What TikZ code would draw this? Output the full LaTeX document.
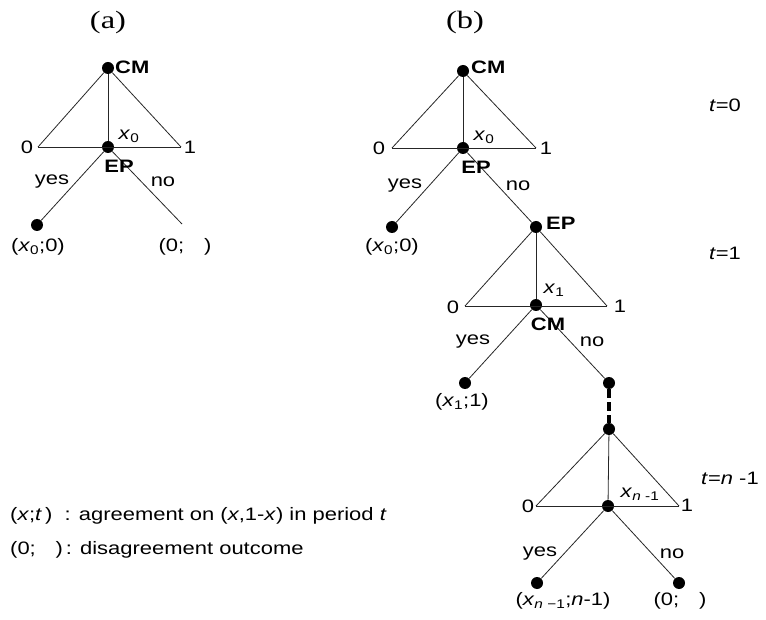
\documentclass[tikz,border=0pt]{standalone}
\usepackage{fontspec}
\setmainfont[FakeStretch=1.22]{Liberation Sans}
\newfontfamily\capfont[FakeStretch=1.3]{Liberation Serif}
\usetikzlibrary{positioning}
\tikzset{
  % decision nodes and outcomes of the tree
  gnode/.style={circle, fill=black, inner sep=0pt, minimum size=12pt},
  % branches and offer simplices
  branch/.style={line width=0.8pt, black!85},
  % the skipped periods between t=1 and t=n-1
  skipln/.style={line width=4pt, dash pattern=on 9pt off 4pt},
  % plain and player labels
  lbl/.style={inner sep=0pt},
  player/.style={lbl, font=\fontsize{18}{21}\selectfont\bfseries},
  panel/.style={lbl, font=\capfont\fontsize{25}{28}\selectfont},
}
\newcommand{\xv}[1]{\textit{x}\textsubscript{#1}}

\begin{document}
\begin{tikzpicture}[x=1pt, y=-1pt, font=\fontsize{18}{21}\selectfont]
    \useasboundingbox (0,0) rectangle (766,620);
    % ---- (a): one period ----
    \node[panel] (a-cap) at (108,22) {(a)};
    \node[gnode] (a-cm) at (108,68) {};
    \coordinate (a-l) at (38,147);
    \coordinate (a-r) at (181,147);
    \node[gnode] (a-ep) at (108,147) {};
    \node[gnode] (a-yes) at (37,225) {};
    \coordinate (a-no) at (182,224);
    \draw[branch] (a-l) -- (a-cm) -- (a-r);
    \draw[branch] (a-l) -- (a-r);
    \draw[branch] (a-cm) -- (a-ep);
    \draw[branch] (a-ep) -- (a-yes);
    \draw[branch] (a-ep) -- (a-no);
    \node[player, anchor=west] (a-cmlbl) at (115,67) {CM};
    \node[player] (a-eplbl) at (119,166) {EP};
    \node[lbl] (a-zero) at (27,147) {0};
    \node[lbl] (a-one) at (190,147) {1};
    \node[lbl] (a-x) at (129,136) {\xv{0}};
    \node[lbl] (a-yeslbl) at (52,182) {yes};
    \node[lbl] (a-nolbl) at (163,182) {no};
    \node[lbl] (a-out1) at (38,247) {(\xv{0};0)};
    \node[lbl] (a-out2) at (185,247) {(0;\hspace{1.1em})};
    % ---- (b): n periods ----
    \node[panel] (b-cap) at (465,22) {(b)};
    % t=0, CM offers
    \node[gnode] (b-cm0) at (463,71) {};
    \coordinate (b-l0) at (392,148);
    \coordinate (b-r0) at (536,148);
    \node[gnode] (b-ep0) at (463,148) {};
    \node[gnode] (b-yes0) at (392,227) {};
    % t=1, EP offers
    \node[gnode] (b-ep1) at (536,227) {};
    \coordinate (b-l1) at (465,306);
    \coordinate (b-r1) at (607,306);
    \node[gnode] (b-cm1) at (536,305) {};
    \node[gnode] (b-yes1) at (465,383) {};
    \node[gnode] (b-no1) at (609,383) {};
    % t=n-1
    \node[gnode] (b-topn) at (609,429) {};
    \coordinate (b-ln) at (536,506);
    \coordinate (b-rn) at (679,506);
    \node[gnode] (b-midn) at (608,506) {};
    \node[gnode] (b-yesn) at (537,583) {};
    \node[gnode] (b-non) at (679,583) {};
    \draw[branch] (b-l0) -- (b-cm0) -- (b-r0);
    \draw[branch] (b-l0) -- (b-r0);
    \draw[branch] (b-cm0) -- (b-ep0);
    \draw[branch] (b-ep0) -- (b-yes0);
    \draw[branch] (b-ep0) -- (b-ep1);
    \draw[branch] (b-l1) -- (b-ep1) -- (b-r1);
    \draw[branch] (b-l1) -- (b-r1);
    \draw[branch] (b-ep1) -- (b-cm1);
    \draw[branch] (b-cm1) -- (b-yes1);
    \draw[branch] (b-cm1) -- (b-no1);
    \draw[skipln] (b-no1) -- (b-topn);
    \draw[branch] (b-ln) -- (b-topn) -- (b-rn);
    \draw[branch] (b-ln) -- (b-rn);
    \draw[branch] (b-topn) -- (b-midn);
    \draw[branch] (b-midn) -- (b-yesn);
    \draw[branch] (b-midn) -- (b-non);
    % labels
    \node[player, anchor=west] (b-cmlbl0) at (471,67) {CM};
    \node[player] (b-eplbl0) at (476,167) {EP};
    \node[lbl] (b-zero0) at (379,148) {0};
    \node[lbl] (b-one0) at (546,148) {1};
    \node[lbl] (b-x0) at (484,137) {\xv{0}};
    \node[lbl] (b-yeslbl0) at (405,186) {yes};
    \node[lbl] (b-nolbl0) at (518,186) {no};
    \node[lbl] (b-out0) at (392,247) {(\xv{0};0)};
    \node[player, anchor=west] (b-eplbl1) at (546,223) {EP};
    \node[lbl] (b-zero1) at (453,307) {0};
    \node[lbl] (b-one1) at (620,306) {1};
    \node[lbl] (b-x1) at (554,290) {\xv{1}};
    \node[player] (b-cmlbl1) at (548,324) {CM};
    \node[lbl] (b-yeslbl1) at (473,342) {yes};
    \node[lbl] (b-nolbl1) at (592,342) {no};
    \node[lbl] (b-out1) at (462,402) {(\xv{1};1)};
    \node[lbl] (b-zeron) at (528,506) {0};
    \node[lbl] (b-onen) at (687,505) {1};
    \node[lbl] (b-xn) at (640,494) {\xv{\textit{n} -1}};
    \node[lbl] (b-yeslbln) at (540,554) {yes};
    \node[lbl] (b-nolbln) at (672,554) {no};
    \node[lbl] (b-outn) at (563,601) {(\xv{\textit{n} −1};\textit{n}-1)};
    \node[lbl] (b-disn) at (680,601) {(0;\hspace{1.1em})};
    % periods
    \node[lbl] (t0) at (725,105) {\textit{t}=0};
    \node[lbl] (t1) at (725,253) {\textit{t}=1};
    \node[lbl] (tn) at (730,478) {\textit{t}=\textit{n} -1};
    % legend
    \node[lbl, anchor=west] (leg1) at (10,516) {(\textit{x};\textit{t}\,)\ \ : agreement on (\textit{x},1-\textit{x}) in period \textit{t}};
    \node[lbl, anchor=west] (leg2) at (10,550) {(0;\hspace{1.1em})\,: disagreement outcome};
\end{tikzpicture}
\end{document}
